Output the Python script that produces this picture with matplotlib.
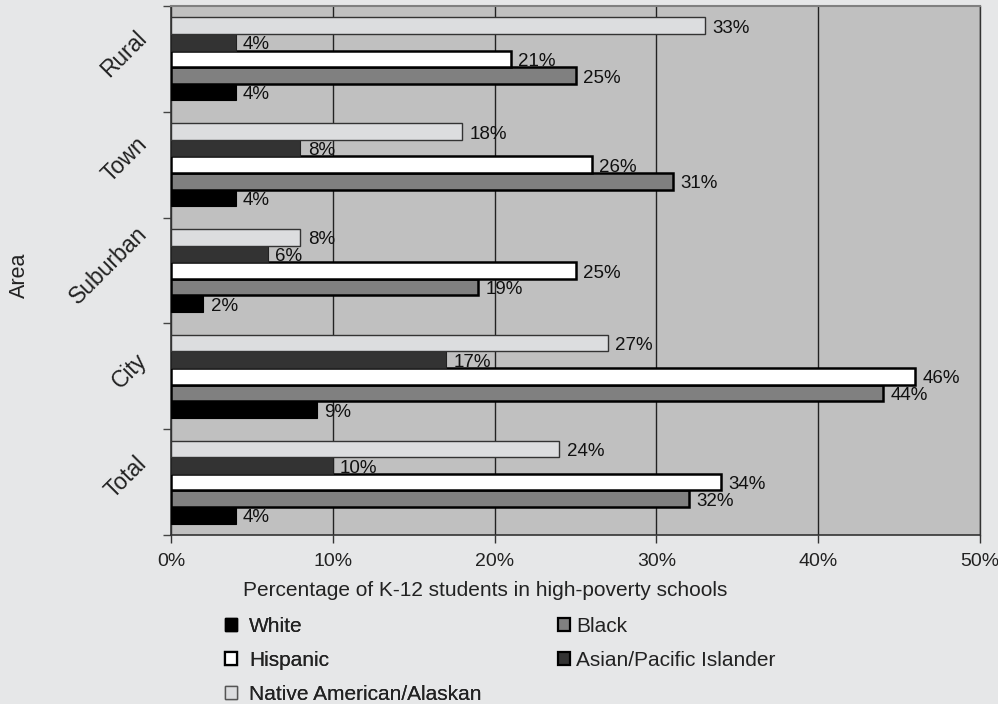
import matplotlib
matplotlib.use("Agg")
import matplotlib.pyplot as plt
from matplotlib.patches import Patch
import matplotlib.transforms as mtransforms
import numpy as np

plt.rcParams['font.family'] = ['Liberation Sans', 'DejaVu Sans']

areas = ["Total", "City", "Suburban", "Town", "Rural"]
white = [4, 9, 2, 4, 4]
black = [32, 44, 19, 31, 25]
hispanic = [34, 46, 25, 26, 21]
asian = [10, 17, 6, 8, 4]
native = [24, 27, 8, 18, 33]
xticks = [0, 10, 20, 30, 40, 50]
xticklabels = ["0%", "10%", "20%", "30%", "40%", "50%"]

series = [
    ("White", white, "#000000", "#000000", 0.8),
    ("Black", black, "#808080", "#000000", 1.8),
    ("Hispanic", hispanic, "#ffffff", "#000000", 1.8),
    ("Asian/Pacific Islander", asian, "#333333", "#222222", 0.8),
    ("Native American/Alaskan", native, "#dcdddf", "#333333", 1.0),
]

fig = plt.figure(figsize=(9.98, 7.04), dpi=100)
fig.patch.set_facecolor("#e6e7e8")
ax = fig.add_axes([171/998, 1-535/704, (980-171)/998, (535-6)/704])
ax.set_facecolor("#c0c0c0")

y = np.arange(len(areas))
h = 0.157
offsets = [-2, -1, 0, 1, 2]
handles = {}
for (name, vals, fc, ec, lw), off in zip(series, offsets):
    ax.barh(y + off*h, vals, height=h, color=fc, edgecolor=ec, linewidth=lw, zorder=3)
    for v, yy in zip(vals, y + off*h):
        ax.text(v + 0.45, yy - 0.025, f"{v}%", va="center", ha="left", fontsize=13.5,
                color="#111111", zorder=4)
    handles[name] = Patch(facecolor=fc,
                          edgecolor="#000000" if name != "Native American/Alaskan" else "#555555",
                          linewidth=1.6 if name in ("Hispanic", "Black", "Asian/Pacific Islander") else 1.0)

ax.set_xlim(0, 50)
ax.set_ylim(-0.5, 4.5)
ax.set_xticks(xticks)
ax.set_xticklabels(xticklabels, fontsize=14, color="#222222")
ax.xaxis.grid(True, color="#222222", linewidth=1.0, zorder=1)
ax.set_axisbelow(True)
ax.tick_params(axis="x", length=6, width=1, color="#333333", pad=7)

ax.set_yticks(y)
ax.set_yticklabels(areas, rotation=45, ha="right", va="center", fontsize=16.5, color="#222222")
ax.set_yticks(np.arange(-0.5, 5, 1), minor=True)
ax.tick_params(axis="y", which="major", length=0, pad=14)
ax.tick_params(axis="y", which="minor", length=6, width=1, color="#444444")
shift = mtransforms.ScaledTranslation(0, 5/100, fig.dpi_scale_trans)
for lab in ax.get_yticklabels():
    lab.set_transform(lab.get_transform() + shift)

for s in ["left", "bottom"]:
    ax.spines[s].set_color("#333333")
    ax.spines[s].set_linewidth(1.2)
ax.spines["top"].set_color("#808080")
ax.spines["top"].set_linewidth(1.5)
ax.spines["right"].set_color("#333333")
ax.spines["right"].set_linewidth(1.0)

fig.text(243/998, 1-590/704, "Percentage of K-12 students in high-poverty schools",
         ha="left", va="center", fontsize=15, color="#222222")
fig.text(19/998, 1-275/704, "Area", ha="center", va="center", rotation=90,
         fontsize=15.5, color="#222222")

col1 = ["White", "Hispanic", "Native American/Alaskan"]
col2 = ["Black", "Asian/Pacific Islander"]
kw = dict(loc="upper left", frameon=False, fontsize=15, handlelength=0.58, handleheight=0.58,
          labelspacing=0.72, borderpad=0, borderaxespad=0, labelcolor="#222222")
leg1 = fig.legend([handles[n] for n in col1], col1, bbox_to_anchor=(225/998, 1-617/704),
                  handletextpad=0.58, **kw)
fig.add_artist(leg1)
fig.legend([handles[n] for n in col2], col2, bbox_to_anchor=(558/998, 1-617/704),
           handletextpad=0.3, **kw)

fig.savefig("out.png", dpi=100, facecolor=fig.get_facecolor())
